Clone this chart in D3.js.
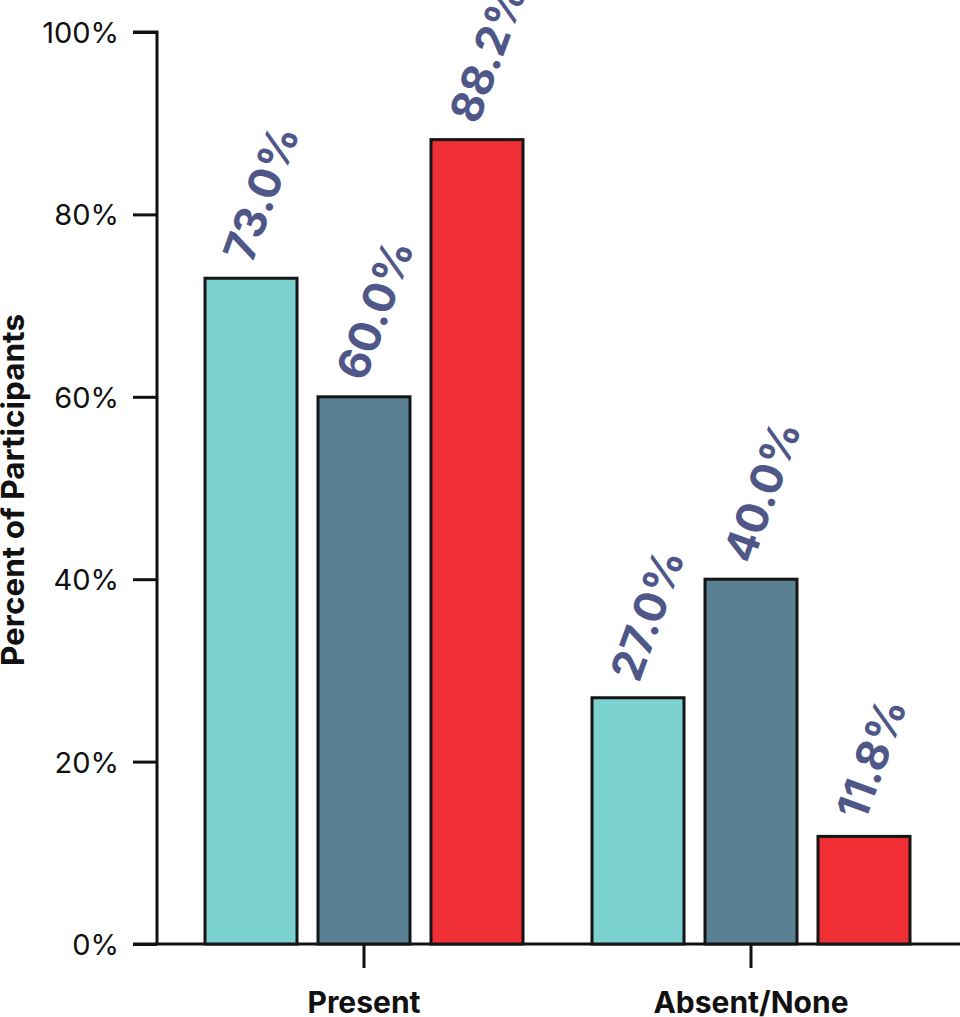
<!DOCTYPE html>
<html>
<head>
<meta charset="utf-8">
<script src="https://cdn.jsdelivr.net/npm/d3@7"></script>
<style>
  html, body { margin: 0; padding: 0; background: #fff; }
  svg { display: block; }
  text { font-family: Inter, "Noto Sans", sans-serif; }
</style>
</head>
<body>
<svg id="chart" width="960" height="1017"></svg>
<script>
const categories = ["Present", "Absent/None"];
const seriesNames = ["Group A", "Group B", "Group C"];
const seriesColors = ["#7bd0d0", "#5a8193", "#ef2f33"];
const valuesPresent = [73.0, 60.0, 88.2];
const valuesAbsent = [27.0, 40.0, 11.8];
const yTicks = [0, 20, 40, 60, 80, 100];
const yTickLabels = ["0%", "20%", "40%", "60%", "80%", "100%"];

const data = [
  { cat: categories[0], vals: valuesPresent },
  { cat: categories[1], vals: valuesAbsent }
];

const svg = d3.select("#chart");

const y = d3.scaleLinear().domain([0, 100]).range([944, 32]);
const x0 = d3.scaleBand().domain(categories).range([170.5, 944.5]).paddingInner(0).paddingOuter(0);
const x1 = d3.scaleBand().domain(seriesNames).range([34.5, x0.bandwidth() - 34.5]).paddingInner(21 / 113).paddingOuter(0);

// x axis baseline
svg.append("line")
  .attr("x1", 133).attr("x2", 960)
  .attr("y1", y(0)).attr("y2", y(0))
  .attr("stroke", "#111").attr("stroke-width", 3);

// y axis
const yAxis = d3.axisLeft(y).tickValues(yTicks).tickFormat((d, i) => yTickLabels[i]).tickSize(24).tickPadding(14);
const gy = svg.append("g").attr("transform", "translate(157,0)").call(yAxis);
gy.select(".domain").attr("stroke", "#111").attr("stroke-width", 3).attr("d", `M-24,${y(100)}H0V${y(0)}`);
gy.selectAll(".tick line").attr("stroke", "#111").attr("stroke-width", 3);
gy.selectAll(".tick text").attr("font-size", 29).attr("fill", "#111").attr("font-family", "Inter, sans-serif").attr("dy", "0.36em");

// x axis ticks
const xAxis = d3.axisBottom(x0).tickSize(24).tickPadding(24);
const gx = svg.append("g").attr("transform", `translate(0,${y(0)})`).call(xAxis);
gx.select(".domain").remove();
gx.selectAll(".tick line").attr("stroke", "#111").attr("stroke-width", 3);
gx.selectAll(".tick text").attr("font-size", 30).attr("font-weight", 700).attr("fill", "#111").attr("font-family", "Inter, sans-serif");

// bars
const groups = svg.append("g").selectAll("g").data(data).join("g")
  .attr("transform", d => `translate(${x0(d.cat)},0)`);

groups.selectAll("rect").data(d => d.vals.map((v, i) => ({ v, s: seriesNames[i], c: seriesColors[i] })))
  .join("rect")
  .attr("x", d => x1(d.s))
  .attr("y", d => y(d.v))
  .attr("width", x1.bandwidth())
  .attr("height", d => y(0) - y(d.v))
  .attr("fill", d => d.c)
  .attr("stroke", "#151515")
  .attr("stroke-width", 3);

groups.selectAll("text.val").data(d => d.vals.map((v, i) => ({ v, s: seriesNames[i] })))
  .join("text")
  .attr("class", "val")
  .attr("transform", d => `translate(${x1(d.s) + x1.bandwidth() / 2 + 1},${y(d.v) - 14}) rotate(-70)`)
  .attr("font-family", "Roboto, sans-serif")
  .attr("font-size", 44)
  .attr("font-weight", 700)
  .attr("fill", "#4f5789")
  .text(d => d.v.toFixed(1) + "%");

// y axis title
svg.append("text")
  .attr("transform", `translate(24,490) rotate(-90)`)
  .attr("text-anchor", "middle")
  .attr("font-size", 31.5)
  .attr("font-weight", 700)
  .attr("fill", "#111")
  .text("Percent of Participants");
</script>
</body>
</html>
